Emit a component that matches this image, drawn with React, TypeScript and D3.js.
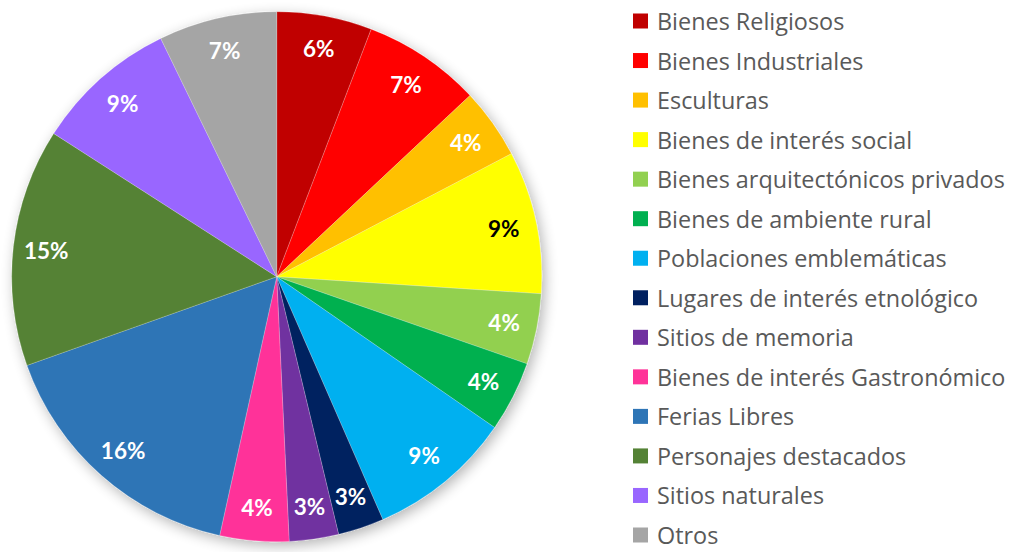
import React from "react";
import * as d3 from "d3";

const categories = [
  "Bienes Religiosos",
  "Bienes Industriales",
  "Esculturas",
  "Bienes de interés social",
  "Bienes arquitectónicos privados",
  "Bienes de ambiente rural",
  "Poblaciones emblemáticas",
  "Lugares de interés etnológico",
  "Sitios de memoria",
  "Bienes de interés Gastronómico",
  "Ferias Libres",
  "Personajes destacados",
  "Sitios naturales",
  "Otros",
];

const values = [5.8, 7.2, 4.3, 8.7, 4.3, 4.3, 8.8, 2.8, 3.0, 4.2, 16.1, 14.5, 8.7, 7.2];

const colors = [
  "#c00000",
  "#ff0000",
  "#ffc000",
  "#ffff00",
  "#92d050",
  "#00b050",
  "#00b0f0",
  "#002060",
  "#7030a0",
  "#ff3399",
  "#2e75b6",
  "#548235",
  "#9966ff",
  "#a5a5a5",
];

const labelColors = ["#fff", "#fff", "#fff", "#000", "#fff", "#fff", "#fff", "#fff", "#fff", "#fff", "#fff", "#fff", "#fff", "#fff"];

const W = 1021;
const H = 552;
const cx = 276.7;
const cy = 276.7;
const R = 265;
const labelR = 232;

export default function App() {
  const total = d3.sum(values);
  const pie = d3.pie<number>().sort(null).value((d) => d);
  const arcs = pie(values);
  const arc = d3.arc<d3.PieArcDatum<number>>().innerRadius(0).outerRadius(R);
  const labelArc = d3.arc<d3.PieArcDatum<number>>().innerRadius(labelR).outerRadius(labelR);

  const legendY = d3.scalePoint<string>().domain(categories).range([21, 535]);

  return (
    <svg width={W} height={H} style={{ position: "absolute", left: 0, top: 0, background: "#fff" }}>
      <defs>
        <filter id="shadow" x="-20%" y="-20%" width="140%" height="140%">
          <feGaussianBlur in="SourceAlpha" stdDeviation="7" />
          <feOffset dx="3" dy="4" result="blur" />
          <feComponentTransfer>
            <feFuncA type="linear" slope="0.3" />
          </feComponentTransfer>
          <feMerge>
            <feMergeNode />
            <feMergeNode in="SourceGraphic" />
          </feMerge>
        </filter>
      </defs>
      <g transform={`translate(${cx},${cy})`}>
        <g filter="url(#shadow)">
          {arcs.map((a, i) => (
            <path key={i} d={arc(a) || ""} fill={colors[i]} stroke="#ffffff" strokeOpacity={0.35} strokeWidth={0.6} />
          ))}
        </g>
        {arcs.map((a, i) => {
          const [x, y] = labelArc.centroid(a);
          return (
            <text
              key={i}
              x={x}
              y={y}
              textAnchor="middle"
              dominantBaseline="central"
              fontFamily="Lato, sans-serif"
              fontWeight="bold"
              fontSize={22.5}
              fill={labelColors[i]}
            >
              {Math.round((values[i] / total) * 100)}%
            </text>
          );
        })}
      </g>
      <g>
        {categories.map((c, i) => (
          <g key={c} transform={`translate(633,${legendY(c)})`}>
            <rect x={0} y={-7.5} width={15} height={15} fill={colors[i]} />
            <text x={24} y={0} dominantBaseline="central" fontFamily="'Open Sans', sans-serif" fontSize={23.4} fill="#595959">
              {c}
            </text>
          </g>
        ))}
      </g>
    </svg>
  );
}
